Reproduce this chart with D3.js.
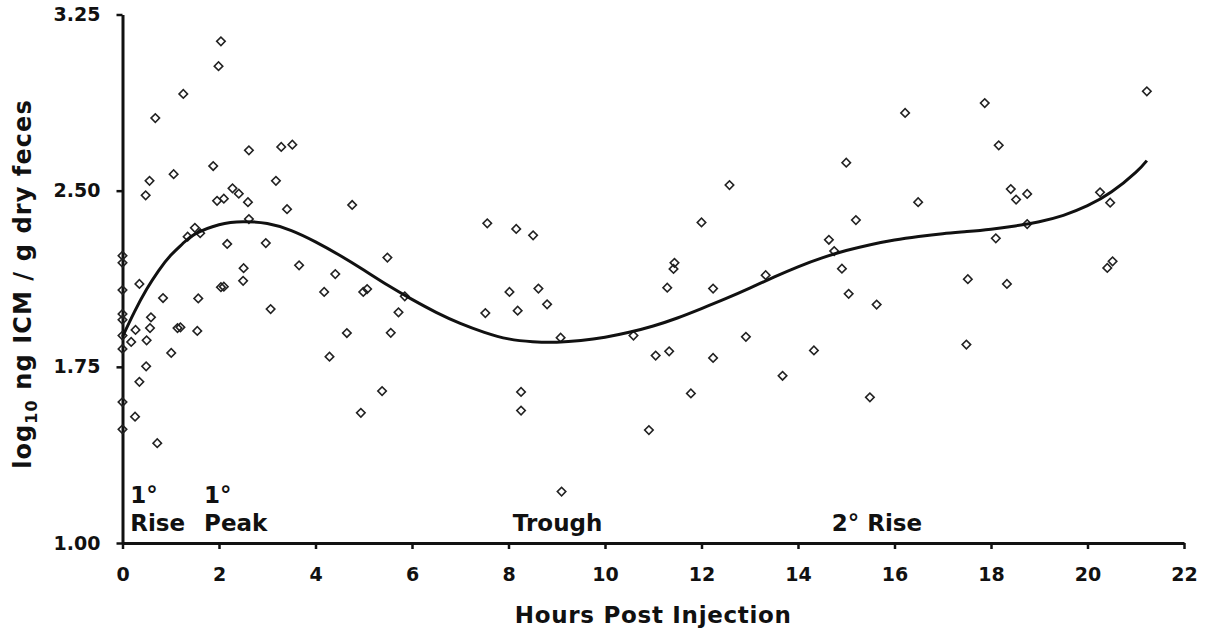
<!DOCTYPE html>
<html>
<head>
<meta charset="utf-8">
<script src="https://cdn.jsdelivr.net/npm/d3@7"></script>
<style>
  body { margin: 0; background: #fff; }
  svg { display: block; font-family: "DejaVu Sans", Verdana, sans-serif; font-weight: bold; }
  .axis path, .axis line { stroke: #111; }
  .axis text { fill: #111; font-size: 19px; font-weight: bold; font-family: "DejaVu Sans", Verdana, sans-serif; }
</style>
</head>
<body>
<svg id="chart" width="1213" height="633"></svg>
<script>
// ---- data ----
// hours post injection of each sample
const hours = [
  0, 0, 0, 0, 0, 0, 0, 0, 0,
  2.04, 1.99, 1.26, 0.68, 2.62, 3.29, 3.52, 1.88, 1.06, 0.56,
  0.48, 3.18, 2.28, 2.41, 1.96, 2.10, 2.60, 3.41, 4.76, 2.62,
  1.50, 1.35, 1.61, 2.17, 2.97, 2.51, 3.66, 4.41, 5.49, 0.35,
  0.84, 1.57, 2.04, 2.10, 2.50, 3.07, 4.18, 4.99, 5.07, 5.72,
  0.59, 0.57, 0.27, 0.18, 0.50, 1.14, 1.20, 1.55, 1.01, 4.65,
  5.56, 4.29, 0.49, 0.35, 5.38, 0.26, 4.94, 0.72,
  7.56, 8.16, 8.51, 11.44, 11.42, 8.02, 8.62, 8.80, 5.85, 7.52,
  8.19, 9.08, 10.59, 11.05, 11.33, 8.26, 8.26, 10.91, 9.10, 11.29,
  15.00, 12.58, 16.49, 12.00, 15.20, 14.64, 14.75, 14.91, 13.33, 12.24,
  15.05, 15.63, 17.52, 12.92, 12.24, 14.33, 17.49, 13.68, 11.78, 15.49,
  16.22, 21.23, 17.87, 18.16, 18.41, 18.52, 18.75, 20.26, 20.47, 18.75,
  18.10, 18.33, 20.52, 20.41
];
// log10 ng ICM / g dry feces for each sample
const icm = [
  2.223, 2.193, 2.077, 1.975, 1.950, 1.883, 1.826, 1.600, 1.484,
  3.136, 3.030, 2.912, 2.809, 2.672, 2.686, 2.696, 2.605, 2.570, 2.542,
  2.480, 2.542, 2.510, 2.487, 2.457, 2.466, 2.451, 2.421, 2.439, 2.379,
  2.342, 2.304, 2.319, 2.273, 2.277, 2.170, 2.182, 2.145, 2.215, 2.103,
  2.043, 2.041, 2.089, 2.091, 2.116, 1.996, 2.069, 2.069, 2.081, 1.982,
  1.961, 1.915, 1.907, 1.856, 1.863, 1.915, 1.918, 1.903, 1.809, 1.894,
  1.895, 1.793, 1.752, 1.686, 1.647, 1.538, 1.554, 1.425,
  2.361, 2.337, 2.310, 2.193, 2.167, 2.069, 2.083, 2.016, 2.050, 1.979,
  1.989, 1.874, 1.883, 1.798, 1.816, 1.643, 1.564, 1.481, 1.219, 2.087,
  2.619, 2.524, 2.451, 2.365, 2.375, 2.291, 2.243, 2.168, 2.140, 2.083,
  2.061, 2.015, 2.123, 1.878, 1.788, 1.820, 1.845, 1.712, 1.637, 1.620,
  2.831, 2.923, 2.873, 2.693, 2.507, 2.462, 2.486, 2.493, 2.449, 2.358,
  2.297, 2.103, 2.199, 2.171
];

// trend line
const trendHours = [0, 0.25, 0.5, 0.75, 1, 1.25, 1.5, 2, 2.5, 3, 3.5, 4, 4.5, 5, 5.5,
  6, 6.5, 7, 7.5, 8, 8.5, 9, 9.5, 10, 10.5, 11, 11.5, 12, 12.5, 13, 13.5, 14,
  14.5, 15, 15.5, 16, 16.5, 17, 17.5, 18, 18.5, 19, 19.5, 20, 20.5, 21, 21.23];
const trendIcm = [1.878, 1.985, 2.080, 2.160, 2.225, 2.275, 2.315, 2.355, 2.368, 2.360, 2.330, 2.282, 2.225, 2.162, 2.097,
  2.037, 1.982, 1.935, 1.897, 1.869, 1.857, 1.855, 1.862, 1.876, 1.897, 1.924, 1.958, 1.998, 2.040, 2.085, 2.132, 2.176,
  2.214, 2.245, 2.270, 2.290, 2.305, 2.317, 2.326, 2.336, 2.350, 2.368, 2.395, 2.436, 2.495, 2.578, 2.628];

const xTicks = [0, 2, 4, 6, 8, 10, 12, 14, 16, 18, 20, 22];
const yTicks = [1.00, 1.75, 2.50, 3.25];

// phase labels: [hour, lines]
const phaseLabels = [
  [0.16, ['1°', 'Rise']],
  [1.69, ['1°', 'Peak']],
  [8.09, ['Trough']],
  [14.7, ['2° Rise']]
];

const svg = d3.select('#chart');

const x = d3.scaleLinear().domain([0, 22]).range([122.5, 1184]);
const y = d3.scaleLinear().domain([1, 3.25]).range([543, 14.5]);

// axes
const xAxis = svg.append('g')
  .attr('class', 'axis')
  .attr('transform', `translate(0,${y(1)})`)
  .call(d3.axisBottom(x).tickValues(xTicks).tickFormat(d3.format('d'))
    .tickSize(6).tickSizeOuter(0).tickPadding(19));
xAxis.select('.domain').attr('stroke-width', 3.2);
xAxis.selectAll('.tick line').attr('stroke-width', 2.5);

const yAxis = svg.append('g')
  .attr('class', 'axis')
  .attr('transform', `translate(${x(0)},0)`)
  .call(d3.axisLeft(y).tickValues(yTicks).tickFormat(d3.format('.2f'))
    .tickSize(6).tickSizeOuter(0).tickPadding(16));
yAxis.select('.domain').attr('stroke-width', 3);
yAxis.selectAll('.tick line').attr('stroke-width', 2.5);

// scatter points (open diamonds)
const diamond = d3.symbol().type(d3.symbolSquare).size(36);
svg.append('g')
  .selectAll('path')
  .data(hours.map((h, i) => ({ h: h, v: icm[i] })))
  .enter()
  .append('path')
  .attr('d', diamond)
  .attr('transform', d => `translate(${x(d.h)},${y(d.v)}) rotate(45)`)
  .attr('fill', 'none')
  .attr('stroke', '#222')
  .attr('stroke-width', 1.6);

// trend line
const line = d3.line()
  .x(d => x(d[0]))
  .y(d => y(d[1]))
  .curve(d3.curveNatural);
svg.append('path')
  .datum(trendHours.map((h, i) => [h, trendIcm[i]]))
  .attr('d', line)
  .attr('fill', 'none')
  .attr('stroke', '#111')
  .attr('stroke-width', 3);

// phase labels along the bottom
const labels = svg.append('g')
  .attr('font-size', '23px')
  .attr('fill', '#111');
phaseLabels.forEach(([h, lines]) => {
  lines.forEach((txt, j) => {
    labels.append('text')
      .attr('x', x(h))
      .attr('y', y(1.051) - (lines.length - 1 - j) * 28)
      .text(txt);
  });
});

// axis titles
svg.append('text')
  .attr('x', (x(0) + x(22)) / 2)
  .attr('y', 623)
  .attr('text-anchor', 'middle')
  .attr('font-size', '23px')
  .attr('letter-spacing', '0.7px')
  .attr('fill', '#111')
  .text('Hours Post Injection');

const yTitle = svg.append('text')
  .attr('transform', 'translate(31,284) rotate(-90)')
  .attr('text-anchor', 'middle')
  .attr('font-size', '24px')
  .attr('letter-spacing', '1.1px')
  .attr('fill', '#111');
yTitle.append('tspan').text('log');
yTitle.append('tspan').attr('font-size', '16px').attr('dy', 6).text('10');
yTitle.append('tspan').attr('dy', -6).text(' ng ICM / g dry feces');
</script>
</body>
</html>
